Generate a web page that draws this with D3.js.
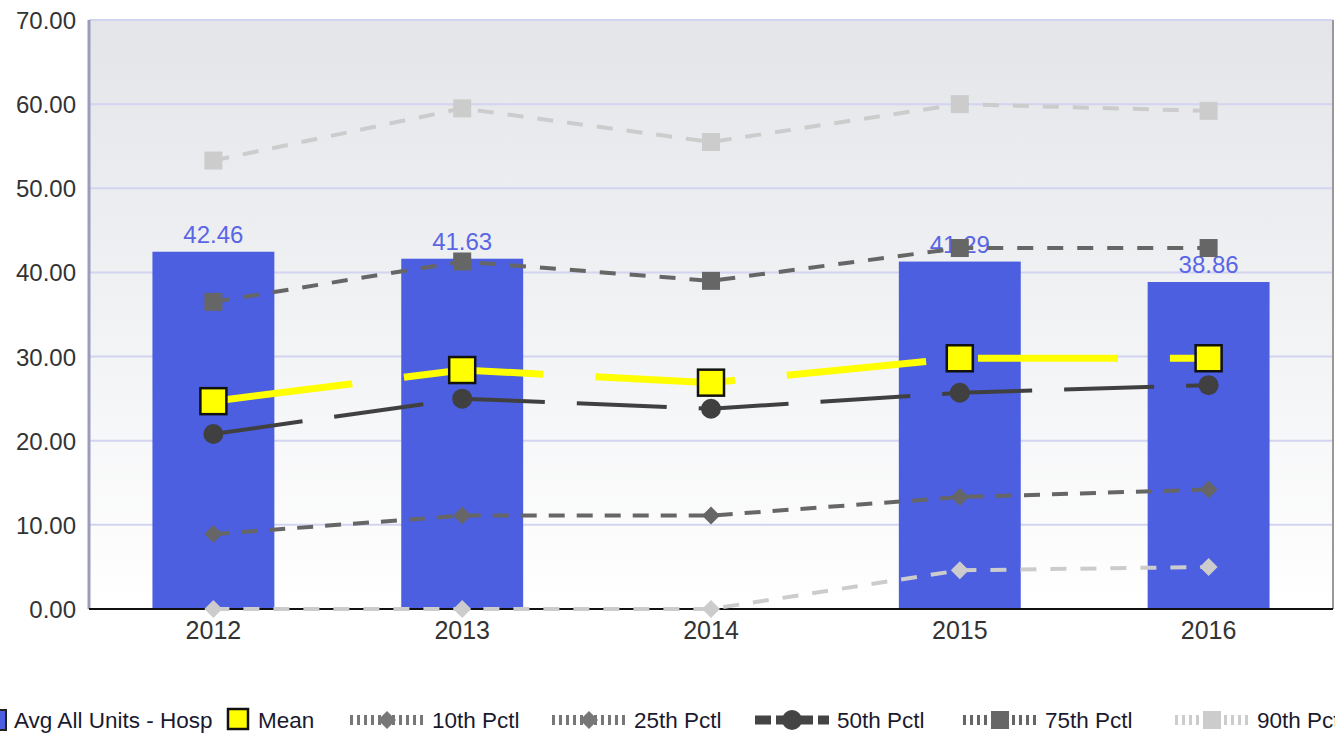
<!DOCTYPE html>
<html>
<head>
<meta charset="utf-8">
<script src="https://cdn.jsdelivr.net/npm/d3@7"></script>
<style>
  body { margin: 0; background: #fff; overflow: hidden; }
  text { font-family: "Liberation Sans", Arial, sans-serif; }
</style>
</head>
<body>
<div id="chart"></div>
<script>
var years = ["2012", "2013", "2014", "2015", "2016"];
var avgAllUnits = [42.46, 41.63, null, 41.29, 38.86];
var meanVals = [24.7, 28.4, 26.9, 29.8, 29.8];
var p10 = [0, 0, 0, 4.6, 5.0];
var p25 = [8.9, 11.1, 11.1, 13.3, 14.2];
var p50 = [20.8, 25.0, 23.8, 25.7, 26.6];
var p75 = [36.5, 41.3, 39.0, 42.9, 42.9];
var p90 = [53.3, 59.5, 55.5, 60.0, 59.2];
var yTicks = [0, 10, 20, 30, 40, 50, 60, 70];

var W = 1335, H = 735;
var margin = {top: 20, right: 2, bottom: 126, left: 89};
var width = W - margin.left - margin.right, height = H - margin.top - margin.bottom;

var svg = d3.select("#chart").append("svg").attr("width", W).attr("height", H);

var defs = svg.append("defs");
var grad = defs.append("linearGradient").attr("id", "bg").attr("x1", 0).attr("y1", 0).attr("x2", 0).attr("y2", 1);
grad.append("stop").attr("offset", "0%").attr("stop-color", "#e3e5e9");
grad.append("stop").attr("offset", "100%").attr("stop-color", "#ffffff");

var x = d3.scaleBand().domain(years).range([0, width]).paddingInner(0.51).paddingOuter(0.255);
var y = d3.scaleLinear().domain([0, 70]).range([height, 0]);
var cx = function(i) { return x(years[i]) + x.bandwidth() / 2; };

var g = svg.append("g").attr("transform", "translate(" + margin.left + "," + margin.top + ")");

g.append("rect").attr("width", width).attr("height", height).attr("fill", "url(#bg)");

// grid
g.selectAll(".grid").data(yTicks.slice(1)).enter().append("line")
  .attr("x1", 0).attr("x2", width)
  .attr("y1", function(d) { return y(d); }).attr("y2", function(d) { return y(d); })
  .attr("stroke", "#d2d4f0").attr("stroke-width", 2);

// y labels
g.selectAll(".ylab").data(yTicks).enter().append("text")
  .attr("x", -13).attr("y", function(d) { return y(d) + 9; })
  .attr("text-anchor", "end").style("font-size", "24px").attr("fill", "#333")
  .text(function(d) { return d3.format(".2f")(d); });

// bars
var barData = years.map(function(yr, i) { return {year: yr, value: avgAllUnits[i]}; }).filter(function(d) { return d.value != null; });
g.selectAll(".bar").data(barData).enter().append("rect")
  .attr("x", function(d) { return x(d.year); })
  .attr("width", x.bandwidth())
  .attr("y", function(d) { return y(d.value); })
  .attr("height", function(d) { return height - y(d.value); })
  .attr("fill", "#4b5fe0");

g.selectAll(".blab").data(barData).enter().append("text")
  .attr("x", function(d) { return x(d.year) + x.bandwidth() / 2; })
  .attr("y", function(d) { return y(d.value) - 9; })
  .attr("text-anchor", "middle").style("font-size", "24px").attr("fill", "#5a66e6")
  .text(function(d) { return d3.format(".2f")(d.value); });

// axes frame
g.append("line").attr("x1", 0).attr("x2", 0).attr("y1", 0).attr("y2", height).attr("stroke", "#9b9cbc").attr("stroke-width", 3);
g.append("line").attr("x1", width).attr("x2", width).attr("y1", 0).attr("y2", height).attr("stroke", "#999").attr("stroke-width", 2);
g.append("line").attr("x1", 0).attr("x2", width).attr("y1", height).attr("y2", height).attr("stroke", "#111").attr("stroke-width", 2);

g.selectAll(".xlab").data(years).enter().append("text")
  .attr("x", function(d, i) { return cx(i); }).attr("y", height + 30)
  .attr("text-anchor", "middle").style("font-size", "25px").attr("fill", "#333")
  .text(function(d) { return d; });

var series = [
  {name: "90th Pctl", vals: p90, color: "#cccccc", w: 4, dash: "16,14", marker: "square", size: 18},
  {name: "10th Pctl", vals: p10, color: "#cccccc", w: 4, dash: "16,14", marker: "diamond", size: 18},
  {name: "25th Pctl", vals: p25, color: "#666666", w: 4, dash: "16,12", marker: "diamond", size: 18},
  {name: "75th Pctl", vals: p75, color: "#666666", w: 4, dash: "16,14", marker: "square", size: 18},
  {name: "50th Pctl", vals: p50, color: "#404040", w: 4, dash: "90,32", marker: "circle", size: 20},
  {name: "Mean", vals: meanVals, color: "#ffff00", w: 7, dash: "140,52", marker: "msquare", size: 26}
];

var line = d3.line().x(function(d) { return cx(d.i); }).y(function(d) { return y(d.v); });

series.forEach(function(s) {
  var pts = s.vals.map(function(v, i) { return {i: i, v: v}; });
  g.append("path").datum(pts).attr("d", line).attr("fill", "none")
    .attr("stroke", s.color).attr("stroke-width", s.w).attr("stroke-dasharray", s.dash);
  var m = g.selectAll(null).data(pts).enter().append("g")
    .attr("transform", function(d) { return "translate(" + cx(d.i) + "," + y(d.v) + ")"; });
  drawMarker(m, s);
});

function drawMarker(sel, s) {
  var r = s.size / 2;
  if (s.marker === "square") {
    sel.append("rect").attr("x", -r).attr("y", -r).attr("width", s.size).attr("height", s.size).attr("fill", s.color);
  } else if (s.marker === "msquare") {
    sel.append("rect").attr("x", -r).attr("y", -r).attr("width", s.size).attr("height", s.size)
      .attr("fill", s.color).attr("stroke", "#111").attr("stroke-width", 2.5);
  } else if (s.marker === "circle") {
    sel.append("circle").attr("r", r).attr("fill", s.color);
  } else {
    sel.append("path").attr("d", "M0," + (-r) + "L" + r + ",0L0," + r + "L" + (-r) + ",0Z").attr("fill", s.color);
  }
}

// legend
var leg = svg.append("g").attr("transform", "translate(0,720)");
leg.append("rect").attr("x", -8).attr("y", -10).attr("width", 14).attr("height", 20)
  .attr("fill", "#4b5fe0").attr("stroke", "#222").attr("stroke-width", 2);
leg.append("text").attr("x", 14).attr("y", 8).style("font-size", "22.5px").attr("fill", "#1a1a2e").text("Avg All Units - Hosp");
leg.append("rect").attr("x", 228).attr("y", -11).attr("width", 20).attr("height", 20)
  .attr("fill", "#ffff00").attr("stroke", "#111").attr("stroke-width", 2.5);
leg.append("text").attr("x", 258).attr("y", 8).style("font-size", "22.5px").attr("fill", "#1a1a2e").text("Mean");

var legItems = [
  {name: "10th Pctl", x0: 350, color: "#777", marker: "diamond", size: 18, dash: "3,4", w: 10},
  {name: "25th Pctl", x0: 552, color: "#777", marker: "diamond", size: 18, dash: "3,4", w: 10},
  {name: "50th Pctl", x0: 755, color: "#444", marker: "circle", size: 20, dash: "16,5", w: 9},
  {name: "75th Pctl", x0: 963, color: "#666", marker: "square", size: 18, dash: "3,4", w: 10},
  {name: "90th Pctl", x0: 1175, color: "#ccc", marker: "square", size: 18, dash: "3,4", w: 10}
];
legItems.forEach(function(d) {
  leg.append("line").attr("x1", d.x0).attr("x2", d.x0 + 74).attr("y1", 0).attr("y2", 0)
    .attr("stroke", d.color).attr("stroke-width", d.w).attr("stroke-dasharray", d.dash);
  var mk = leg.append("g").attr("transform", "translate(" + (d.x0 + 37) + ",0)");
  drawMarker(mk, d.marker === "square" ? {marker: "square", size: d.size, color: d.color} : d);
  leg.append("text").attr("x", d.x0 + 82).attr("y", 8).style("font-size", "22.5px").attr("fill", "#1a1a2e").text(d.name);
});
</script>
</body>
</html>
